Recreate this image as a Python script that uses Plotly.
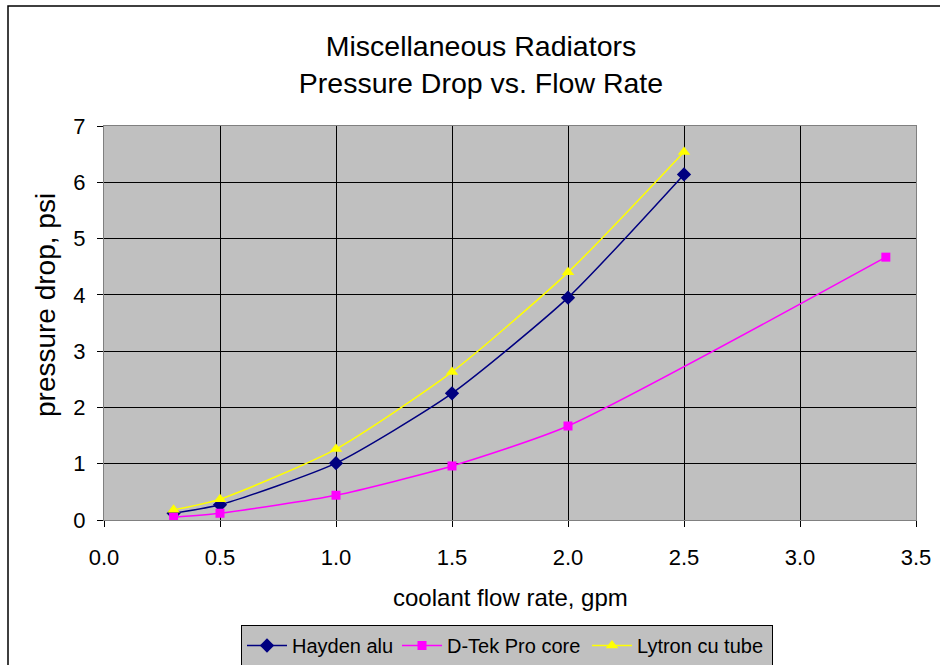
import plotly.graph_objects as go

flow = [0.3, 0.5, 1.0, 1.5, 2.0, 2.5]
hayden = [0.12, 0.27, 1.01, 2.25, 3.95, 6.14]
dtek_flow = [0.3, 0.5, 1.0, 1.5, 2.0, 3.37]
dtek = [0.05, 0.12, 0.44, 0.96, 1.67, 4.67]
lytron = [0.18, 0.37, 1.26, 2.63, 4.40, 6.54]

font = "Liberation Sans, Arial, sans-serif"

fig = go.Figure()
fig.add_trace(go.Scatter(x=flow, y=hayden, name="Hayden alu", mode="lines+markers",
                         legendwidth=100,
                         line=dict(color="#000080", width=1.5, shape="spline", smoothing=0.6),
                         marker=dict(symbol="diamond", size=11, color="#000080")))
fig.add_trace(go.Scatter(x=dtek_flow, y=dtek, name="D-Tek Pro core", mode="lines+markers",
                         legendwidth=135,
                         line=dict(color="#FF00FF", width=1.5, shape="spline", smoothing=0.6),
                         marker=dict(symbol="square", size=9, color="#FF00FF")))
fig.add_trace(go.Scatter(x=flow, y=lytron, name="Lytron cu tube", mode="lines+markers",
                         legendwidth=130,
                         line=dict(color="#FFFF00", width=1.5, shape="spline", smoothing=0.6),
                         marker=dict(symbol="triangle-up", size=11, color="#FFFF00")))

L, R, T, B = 104, 24, 126, 145
W, H = 940, 665
pw, ph = W - L - R, H - T - B

def px(x):
    return (x - L) / pw

def py(y):
    return (H - B - y) / ph

fig.add_shape(type="rect", xref="paper", yref="paper",
              x0=px(8), x1=px(960), y0=py(690), y1=py(6),
              line=dict(color="black", width=1.5), fillcolor="rgba(0,0,0,0)", layer="below")

fig.add_annotation(text="coolant flow rate, gpm", xref="paper", yref="paper",
                   x=px(510), y=py(597), xanchor="center", yanchor="middle",
                   showarrow=False, font=dict(size=24))
fig.add_annotation(text="pressure drop, psi", xref="paper", yref="paper",
                   x=px(45), y=py(305), xanchor="center", yanchor="middle", textangle=-90,
                   showarrow=False, font=dict(size=28))

fig.update_layout(
    width=W, height=H,
    margin=dict(l=L, r=R, t=T, b=B, autoexpand=False),
    paper_bgcolor="white",
    plot_bgcolor="#C0C0C0",
    font=dict(family=font, color="black", size=22),
    title=dict(text="Miscellaneous Radiators<br>Pressure Drop vs. Flow Rate",
               x=481 / W, xanchor="center", xref="container", y=1 - 56 / H, yanchor="middle",
               font=dict(size=28.5)),
    showlegend=True,
    legend=dict(orientation="h", x=px(241), xanchor="left", y=py(625), yanchor="top",
                bgcolor="#C0C0C0", bordercolor="black", borderwidth=1,
                font=dict(size=20), itemwidth=40, tracegroupgap=0),
    xaxis=dict(range=[0, 3.5], dtick=0.5, tickformat=".1f", automargin=False,
               showgrid=True, gridcolor="black", gridwidth=1,
               ticks="outside", ticklen=6, tickcolor="black",
               ticklabelstandoff=12,
               showline=True, linecolor="#808080", linewidth=1, mirror=True,
               zeroline=False),
    yaxis=dict(range=[0, 7], dtick=1, automargin=False,
               showgrid=True, gridcolor="black", gridwidth=1,
               ticks="outside", ticklen=6, tickcolor="black",
               ticklabelstandoff=7,
               showline=True, linecolor="#808080", linewidth=1, mirror=True,
               zeroline=False),
)

fig.write_html("out.html")
